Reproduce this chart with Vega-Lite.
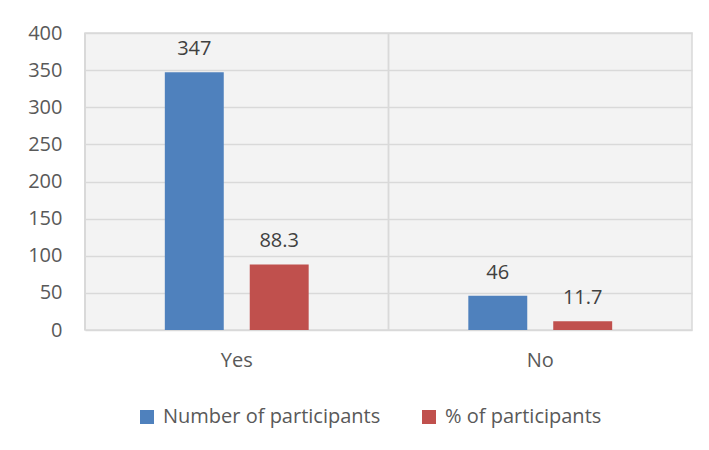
{
  "$schema": "https://vega.github.io/schema/vega-lite/v6.json",
  "width": 607,
  "height": 297,
  "autosize": {"type": "none"},
  "padding": {"left": 85, "top": 33, "right": 17, "bottom": 120},
  "background": "white",
  "config": {
    "font": "Open Sans",
    "view": {"stroke": "#d9d9d9", "strokeWidth": 1.5, "fill": "#f3f3f3"}
  },
  "data": {
    "values": [
      {"answer": "Yes", "series": "Number of participants", "value": 347},
      {"answer": "Yes", "series": "% of participants", "value": 88.3},
      {"answer": "No", "series": "Number of participants", "value": 46},
      {"answer": "No", "series": "% of participants", "value": 11.7}
    ]
  },
  "encoding": {
    "x": {
      "field": "answer",
      "type": "nominal",
      "sort": ["Yes", "No"],
      "scale": {"paddingInner": 0, "paddingOuter": 0},
      "axis": {
        "title": null,
        "labelAngle": 0,
        "ticks": false,
        "domain": false,
        "grid": false,
        "labelFontSize": 20,
        "labelColor": "#595959",
        "labelPadding": 20
      }
    },
    "y": {
      "field": "value",
      "type": "quantitative",
      "scale": {"domain": [0, 400], "nice": false},
      "axis": {
        "title": null,
        "values": [0, 50, 100, 150, 200, 250, 300, 350, 400],
        "ticks": false,
        "domain": false,
        "grid": true,
        "gridColor": "#d9d9d9",
        "gridWidth": 1.5,
        "labelFontSize": 20,
        "labelColor": "#595959",
        "labelPadding": 23
      }
    }
  },
  "layer": [
    {
      "mark": {"type": "rule", "color": "#d9d9d9", "strokeWidth": 1.5},
      "encoding": {
        "x": {"field": "answer", "type": "nominal", "sort": ["Yes", "No"], "bandPosition": 0},
        "y": null
      }
    },
    {
      "mark": {"type": "bar"},
      "encoding": {
        "xOffset": {
          "field": "series",
          "type": "nominal",
          "sort": ["Number of participants", "% of participants"],
          "scale": {"paddingInner": 0.306, "paddingOuter": 0.94}
        },
        "color": {
          "field": "series",
          "type": "nominal",
          "sort": ["Number of participants", "% of participants"],
          "scale": {
            "domain": ["Number of participants", "% of participants"],
            "range": ["#4f81bd", "#c0504d"]
          },
          "legend": {
            "title": null,
            "orient": "none",
            "direction": "horizontal",
            "legendX": 52,
            "legendY": 374,
            "padding": 0,
            "symbolType": "square",
            "symbolSize": 196,
            "symbolStrokeWidth": 0,
            "labelFontSize": 20,
            "labelColor": "#595959",
            "labelOffset": 6,
            "labelLimit": 0,
            "columnPadding": 38
          }
        }
      }
    },
    {
      "mark": {"type": "text", "baseline": "alphabetic", "dy": -17, "fontSize": 20, "color": "#404040"},
      "encoding": {
        "xOffset": {
          "field": "series",
          "type": "nominal",
          "sort": ["Number of participants", "% of participants"],
          "scale": {"paddingInner": 0.306, "paddingOuter": 0.94}
        },
        "text": {"field": "value", "type": "quantitative"}
      }
    }
  ]
}
